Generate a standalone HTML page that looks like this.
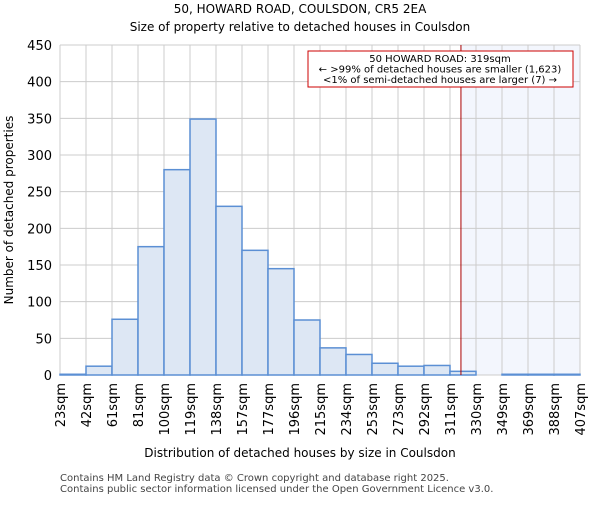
<!DOCTYPE html>
<html><head><meta charset="utf-8"><style>body{margin:0;background:#fff}svg{font-family:"DejaVu Sans","Liberation Sans",sans-serif}</style></head>
<body>
<svg id="c" width="600" height="500" xmlns="http://www.w3.org/2000/svg">
<text x="300" y="13" text-anchor="middle" font-size="12">50, HOWARD ROAD, COULSDON, CR5 2EA</text>
<text x="300" y="31" text-anchor="middle" font-size="12">Size of property relative to detached houses in Coulsdon</text>
<g id="g"></g>
<text x="300" y="457" text-anchor="middle" font-size="12">Distribution of detached houses by size in Coulsdon</text>
<text transform="translate(13,210) rotate(-90)" text-anchor="middle" font-size="12">Number of detached properties</text>
<text x="60" y="481" font-size="10" fill="#444">Contains HM Land Registry data © Crown copyright and database right 2025.</text>
<text x="60" y="492" font-size="10" fill="#444">Contains public sector information licensed under the Open Government Licence v3.0.</text>
</svg>
<script>
const labels=["23sqm","42sqm","61sqm","81sqm","100sqm","119sqm","138sqm","157sqm","177sqm","196sqm","215sqm","234sqm","253sqm","273sqm","292sqm","311sqm","330sqm","349sqm","369sqm","388sqm","407sqm"];
const edges=[23,42,61,81,100,119,138,157,177,196,215,234,253,273,292,311,330,349,369,388,407];
const values=[1,12,76,175,280,349,230,170,145,75,37,28,16,12,13,5,0,1,1,1];
const yTicks=[0,50,100,150,200,250,300,350,400,450];
const subject=319;
const X0=60,X1=580,Y0=375,Y1=45,n=values.length,bw=(X1-X0)/n;
const ys=v=>Y0-(v/450)*(Y0-Y1);
const xi=i=>X0+i*bw;
function xv(v){let i=0;while(i<n-1&&v>edges[i+1])i++;return xi(i)+(v-edges[i])/(edges[i+1]-edges[i])*bw;}
const g=document.getElementById('g'),NS="http://www.w3.org/2000/svg";
function mk(t,a){const e=document.createElementNS(NS,t);for(const k in a)e.setAttribute(k,a[k]);g.appendChild(e);return e;}
const sx=xv(subject);
let e=mk('rect',{x:sx,y:Y1,width:X1-sx,height:Y0-Y1,fill:'#f3f6fd'});


for(const t of yTicks){e=mk('line',{x1:X0,x2:X1,y1:ys(t),y2:ys(t),stroke:'#ccc'});


e=mk('text',{x:X0-8,y:ys(t)+5,'text-anchor':'end','font-size':13});e.textContent=t;

}
for(let i=0;i<=n;i++){e=mk('line',{x1:xi(i),x2:xi(i),y1:Y1,y2:Y0,stroke:'#ccc'});


e=mk('text',{transform:`translate(${xi(i)+5},${Y0+8}) rotate(-90)`,'text-anchor':'end','font-size':13});e.textContent=labels[i];

}
values.forEach((v,i)=>{if(v<=0)return;e=mk('rect',{x:xi(i),y:ys(v),width:bw,height:Y0-ys(v),fill:'#dde7f4',stroke:'#5b8fd4','stroke-width':1.5});

});
e=mk('line',{x1:sx,x2:sx,y1:Y1,y2:Y0,stroke:'#a00','stroke-width':1});


e=mk('rect',{x:308,y:51,width:265,height:36,fill:'#fff',stroke:'#c00'});


["50 HOWARD ROAD: 319sqm","← >99% of detached houses are smaller (1,623)","<1% of semi-detached houses are larger (7) →"].forEach((s,k)=>{e=mk('text',{x:440,y:62+k*10.5,'text-anchor':'middle','font-size':10});e.textContent=s;

});
</script>
</body></html>
